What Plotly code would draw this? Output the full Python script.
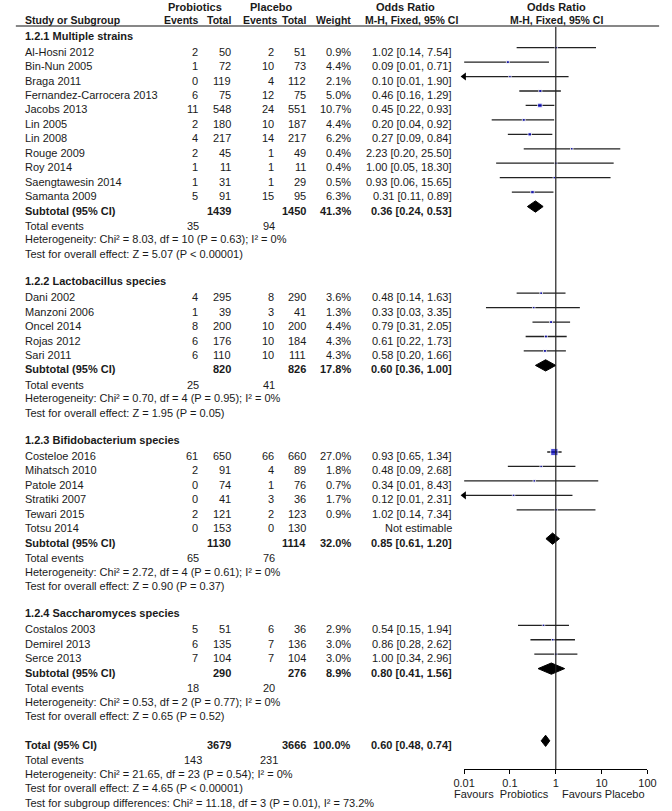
###########
# IMPORTS #
###########
import math
import plotly.graph_objects as go

########
# DATA #
########
W, H = 672, 811
FONT = "Arial, Liberation Sans, sans-serif"
TXT = "#1a1a1a"

group_names = ["1.2.1 Multiple strains", "1.2.2 Lactobacillus species",
               "1.2.3 Bifidobacterium species", "1.2.4 Saccharomyces species"]

study = ["Al-Hosni 2012", "Bin-Nun 2005", "Braga 2011", "Fernandez-Carrocera 2013",
         "Jacobs 2013", "Lin 2005", "Lin 2008", "Rouge 2009", "Roy 2014",
         "Saengtawesin 2014", "Samanta 2009",
         "Dani 2002", "Manzoni 2006", "Oncel 2014", "Rojas 2012", "Sari 2011",
         "Costeloe 2016", "Mihatsch 2010", "Patole 2014", "Stratiki 2007",
         "Tewari 2015", "Totsu 2014",
         "Costalos 2003", "Demirel 2013", "Serce 2013"]
study_group = [0] * 11 + [1] * 5 + [2] * 6 + [3] * 3
prob_events = [2, 1, 0, 6, 11, 2, 4, 2, 1, 1, 5, 4, 1, 8, 6, 6, 61, 2, 0, 0, 2, 0, 5, 6, 7]
prob_total = [50, 72, 119, 75, 548, 180, 217, 45, 11, 31, 91, 295, 39, 200, 176, 110,
              650, 91, 74, 41, 121, 153, 51, 135, 104]
plac_events = [2, 10, 4, 12, 24, 10, 14, 1, 1, 1, 15, 8, 3, 10, 10, 10, 66, 4, 1, 3, 2, 0, 6, 7, 7]
plac_total = [51, 73, 112, 75, 551, 187, 217, 49, 11, 29, 95, 290, 41, 200, 184, 111,
              660, 89, 76, 36, 123, 130, 36, 136, 104]
weight = [0.9, 4.4, 2.1, 5.0, 10.7, 4.4, 6.2, 0.4, 0.4, 0.5, 6.3, 3.6, 1.3, 4.4, 4.3, 4.3,
          27.0, 1.8, 0.7, 1.7, 0.9, None, 2.9, 3.0, 3.0]
or_est = [1.02, 0.09, 0.10, 0.46, 0.45, 0.20, 0.27, 2.23, 1.00, 0.93, 0.31, 0.48, 0.33, 0.79,
          0.61, 0.58, 0.93, 0.48, 0.34, 0.12, 1.02, None, 0.54, 0.86, 1.00]
or_lo = [0.14, 0.01, 0.01, 0.16, 0.22, 0.04, 0.09, 0.20, 0.05, 0.06, 0.11, 0.14, 0.03, 0.31,
         0.22, 0.20, 0.65, 0.09, 0.01, 0.01, 0.14, None, 0.15, 0.28, 0.34]
or_hi = [7.54, 0.71, 1.90, 1.29, 0.93, 0.92, 0.84, 25.50, 18.30, 15.65, 0.89, 1.63, 3.35, 2.05,
         1.73, 1.66, 1.34, 2.68, 8.43, 2.31, 7.34, None, 1.94, 2.62, 2.96]
# CIs running off the left edge of the scale (drawn with an arrow)
clipped_low = ["Braga 2011", "Stratiki 2007"]

sub_prob_total = [1439, 820, 1130, 290]
sub_plac_total = [1450, 826, 1114, 276]
sub_weight = [41.3, 17.8, 32.0, 8.9]
sub_est = [0.36, 0.60, 0.85, 0.80]
sub_lo = [0.24, 0.36, 0.61, 0.41]
sub_hi = [0.53, 1.00, 1.20, 1.56]
sub_ev_prob = [35, 25, 65, 18]
sub_ev_plac = [94, 41, 76, 20]
sub_het = ["Chi² = 8.03, df = 10 (P = 0.63); I² = 0%",
           "Chi² = 0.70, df = 4 (P = 0.95); I² = 0%",
           "Chi² = 2.72, df = 4 (P = 0.61); I² = 0%",
           "Chi² = 0.53, df = 2 (P = 0.77); I² = 0%"]
sub_effect = ["Z = 5.07 (P &lt; 0.00001)", "Z = 1.95 (P = 0.05)",
              "Z = 0.90 (P = 0.37)", "Z = 0.65 (P = 0.52)"]

tot_prob_total, tot_plac_total, tot_weight = 3679, 3666, 100.0
tot_est, tot_lo, tot_hi = 0.60, 0.48, 0.74
tot_ev_prob, tot_ev_plac = 143, 231
tot_het = "Chi² = 21.65, df = 23 (P = 0.54); I² = 0%"
tot_effect = "Z = 4.65 (P &lt; 0.00001)"
tot_subgroup = "Chi² = 11.18, df = 3 (P = 0.01), I² = 73.2%"

tick_vals = [0.01, 0.1, 1, 10, 100]
tick_text = ["0.01", "0.1", "1", "10", "100"]

# column x positions (px)
X_NAME, X_PEV, X_PTOT, X_CEV, X_CTOT, X_W, X_OR = 12, 195, 229, 273, 306, 352, 457
X_PEV_C, X_CEV_C = 188, 266

# row geometry: row 0 marks at 47.7 px, 14.44 px per row
ROW0, STEP = 47.7, 14.44


#############
# FUNCTIONS #
#############
def fmt_or(e, l, h):
    return f"{e:.2f} [{l:.2f}, {h:.2f}]"


def add_text(fig, x_px, row, text, anchor="left", bold=False, paper_y=None, size=11):
    if bold:
        text = f"<b>{text}</b>"
    if paper_y is None:
        yref, yy, shift = "y", row, -4
    else:
        yref, yy, shift = "paper", paper_y, 0
    fig.add_annotation(x=x_px / W, xref="paper", y=yy, yref=yref, yshift=shift,
                       text=text, showarrow=False, xanchor=anchor, yanchor="middle",
                       font=dict(family=FONT, size=size, color=TXT))


def diamond(est, lo, hi, row, h=0.39):
    return go.Scatter(x=[lo, est, hi, est, lo], y=[row, row - h, row, row + h, row],
                      mode="lines", fill="toself", fillcolor="black",
                      line=dict(color="black", width=1), hoverinfo="skip",
                      showlegend=False)


fig = go.Figure()

ci_x, ci_y = [], []
pt_x, pt_y, pt_s = [], [], []
arr_x, arr_y = [], []

r = -1
for g, gname in enumerate(group_names):
    add_text(fig, X_NAME, r - 0.12, gname, bold=True)
    r += 1
    for i in [k for k in range(len(study)) if study_group[k] == g]:
        add_text(fig, X_NAME, r, study[i])
        add_text(fig, X_PEV, r, str(prob_events[i]), "right")
        add_text(fig, X_PTOT, r, str(prob_total[i]), "right")
        add_text(fig, X_CEV, r, str(plac_events[i]), "right")
        add_text(fig, X_CTOT, r, str(plac_total[i]), "right")
        if or_est[i] is None:
            add_text(fig, X_OR, r, "Not estimable", "right")
        else:
            add_text(fig, X_W, r, f"{weight[i]:.1f}%", "right")
            add_text(fig, X_OR, r, fmt_or(or_est[i], or_lo[i], or_hi[i]), "right")
            ci_x += [or_lo[i], or_hi[i], None]
            ci_y += [r, r, None]
            pt_x.append(or_est[i])
            pt_y.append(r)
            pt_s.append(max(2.5, 1.4 * math.sqrt(weight[i])))
            if study[i] in clipped_low:
                arr_x.append(tick_vals[0])
                arr_y.append(r)
        r += 1
    # subtotal
    add_text(fig, X_NAME, r, "Subtotal (95% CI)", bold=True)
    add_text(fig, X_PTOT, r, str(sub_prob_total[g]), "right", bold=True)
    add_text(fig, X_CTOT, r, str(sub_plac_total[g]), "right", bold=True)
    add_text(fig, X_W, r, f"{sub_weight[g]:.1f}%", "right", bold=True)
    add_text(fig, X_OR, r, fmt_or(sub_est[g], sub_lo[g], sub_hi[g]), "right", bold=True)
    fig.add_trace(diamond(sub_est[g], sub_lo[g], sub_hi[g], r))
    r += 1
    add_text(fig, X_NAME, r + 0.05, "Total events")
    add_text(fig, X_PEV_C, r + 0.05, str(sub_ev_prob[g]), "center")
    add_text(fig, X_CEV_C, r + 0.05, str(sub_ev_plac[g]), "center")
    r += 1
    add_text(fig, X_NAME, r, "Heterogeneity: " + sub_het[g])
    r += 1
    add_text(fig, X_NAME, r, "Test for overall effect: " + sub_effect[g])
    r += 2

# overall total
add_text(fig, X_NAME, r, "Total (95% CI)", bold=True)
add_text(fig, X_PTOT, r, str(tot_prob_total), "right", bold=True)
add_text(fig, X_CTOT, r, str(tot_plac_total), "right", bold=True)
add_text(fig, X_W, r, f"{tot_weight:.1f}%", "right", bold=True)
add_text(fig, X_OR, r, fmt_or(tot_est, tot_lo, tot_hi), "right", bold=True)
fig.add_trace(diamond(tot_est, tot_lo, tot_hi, r))
add_text(fig, X_NAME, r + 1.05, "Total events")
add_text(fig, X_PEV_C, r + 1.05, str(tot_ev_prob), "center")
add_text(fig, X_CEV_C, r + 1.05, str(tot_ev_plac), "center")
add_text(fig, X_NAME, r + 2, "Heterogeneity: " + tot_het)
add_text(fig, X_NAME, r + 3, "Test for overall effect: " + tot_effect)
add_text(fig, X_NAME, r + 4, "Test for subgroup differences: " + tot_subgroup)

# CI lines, squares and arrows
fig.add_trace(go.Scatter(x=ci_x, y=ci_y, mode="lines", line=dict(color="#222222", width=1.3),
                         hoverinfo="skip", showlegend=False))
fig.add_trace(go.Scatter(x=pt_x, y=pt_y, mode="markers",
                         marker=dict(symbol="square", size=pt_s, color="#0000c8"),
                         showlegend=False))
fig.add_trace(go.Scatter(x=arr_x, y=arr_y, mode="markers", cliponaxis=False,
                         marker=dict(symbol="triangle-left", size=7, color="black"),
                         showlegend=False))

# headers
hy1, hy2 = 1 - 7 / H, 1 - 20 / H
add_text(fig, 190, 0, "Probiotics", "center", True, hy1)
add_text(fig, 268, 0, "Placebo", "center", True, hy1)
add_text(fig, 407, 0, "Odds Ratio", "center", True, hy1)
add_text(fig, 562, 0, "Odds Ratio", "center", True, hy1)
add_text(fig, X_NAME, 0, "Study or Subgroup", "left", True, hy2, 10.5)
add_text(fig, 196, 0, "Events", "right", True, hy2, 10.5)
add_text(fig, X_PTOT, 0, "Total", "right", True, hy2, 10.5)
add_text(fig, 277, 0, "Events", "right", True, hy2, 10.5)
add_text(fig, X_CTOT, 0, "Total", "right", True, hy2, 10.5)
add_text(fig, 353, 0, "Weight", "right", True, hy2, 10.5)
add_text(fig, 413, 0, "M-H, Fixed, 95% CI", "center", True, hy2, 10.5)
add_text(fig, 562, 0, "M-H, Fixed, 95% CI", "center", True, hy2, 10.5)
fig.add_shape(type="line", xref="paper", yref="paper", x0=5 / W, x1=668 / W,
              y0=1 - 26 / H, y1=1 - 26 / H, layer="above",
              line=dict(color="#111111", width=1.2))

# line of no effect
axis_pos = 1 - 769 / H
fig.add_shape(type="line", xref="x", yref="paper", x0=1, x1=1, y0=1 - 27 / H, y1=axis_pos,
              line=dict(color="#222222", width=1.2))

# favours labels
add_text(fig, 557, 0, "Favours  Probiotics", "right", False, 1 - 794 / H)
add_text(fig, 566, 0, "Favours Placebo", "left", False, 1 - 794 / H)

fig.update_layout(
    width=W, height=H, margin=dict(l=0, r=0, t=0, b=0),
    plot_bgcolor="white", paper_bgcolor="white", showlegend=False,
    xaxis=dict(type="log", range=[-2, 2], domain=[467 / W, 656 / W],
               anchor="free", position=axis_pos, showgrid=False, zeroline=False,
               showline=True, linecolor="black", linewidth=1.3,
               ticks="outside", ticklen=4, tickcolor="black", tickwidth=1.3,
               tickvals=tick_vals, ticktext=tick_text,
               tickfont=dict(family=FONT, size=11, color=TXT)),
    yaxis=dict(range=[(H - ROW0) / STEP, -ROW0 / STEP], domain=[0, 1],
               visible=False, showgrid=False, zeroline=False),
)

# drop the default page margin so the figure sits at the window's top-left corner
fig.write_html("out.html", config={"displayModeBar": False},
               post_script="document.body.style.margin = '0';")
